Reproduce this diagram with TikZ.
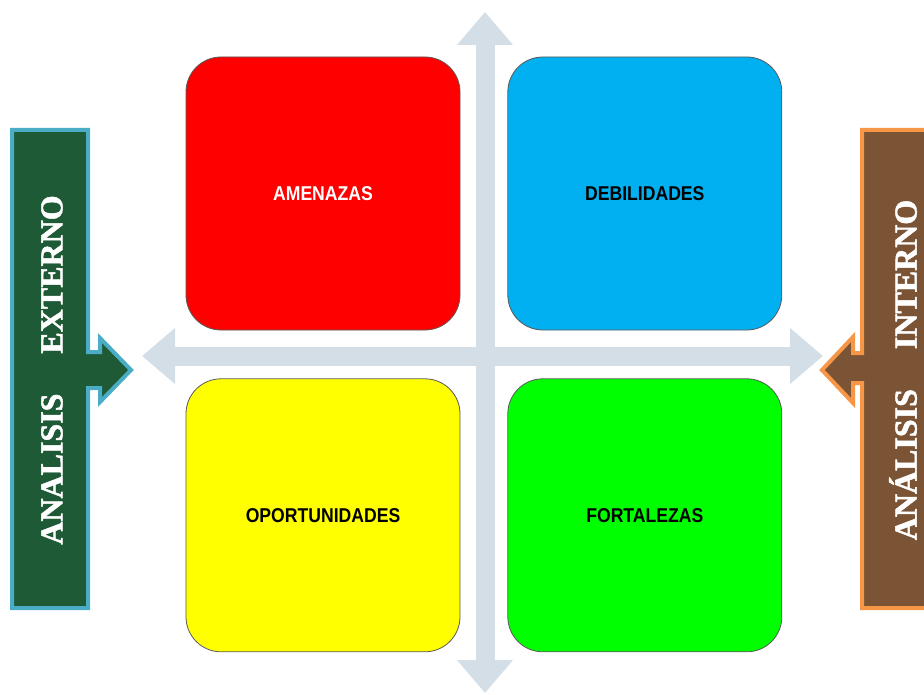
\documentclass[tikz,border=0pt]{standalone}
\usepackage{fontspec}
\setmainfont{Liberation Sans}
\newfontfamily\boxfont[FakeStretch=0.88]{Liberation Sans}
\newfontfamily\sidefont[FakeBold=1.5]{Liberation Serif Bold}
\usetikzlibrary{arrows.meta, positioning}
\definecolor{amenaza}{HTML}{FF0000}
\definecolor{debilidad}{HTML}{00B0F0}
\definecolor{oportunidad}{HTML}{FFFF00}
\definecolor{fortaleza}{HTML}{00FF00}
\definecolor{ejegris}{HTML}{D3DEE6}
\definecolor{marmol}{HTML}{1E5A36}
\definecolor{madera}{HTML}{7A5434}
\definecolor{bordeext}{HTML}{4BACC6}
\definecolor{bordeint}{HTML}{F79646}

\begin{document}
\begin{tikzpicture}[x=1pt, y=-1pt,
  quad/.style={draw=black!65, line width=0.8pt, rounded corners=35pt, minimum width=274pt, minimum height=273pt, inner sep=0pt, font=\boxfont\bfseries\fontsize{20}{24}\selectfont},
  axis/.style={draw=ejegris, line width=19pt, {Triangle[width=54pt,length=33pt]}-{Triangle[width=54pt,length=33pt]}},
  side/.style={text=white, rotate=90, font=\sidefont\fontsize{32}{36}\selectfont}]
\useasboundingbox (0,0) rectangle (924,695);
\clip (0,0) rectangle (924,695);

% ejes
\coordinate (vtop) at (485,12);
\coordinate (vbot) at (485,693);
\coordinate (hleft) at (142,356);
\coordinate (hright) at (823,356);
\draw[axis] (vtop) -- (vbot);
\draw[axis] (hleft) -- (hright);

% cuadrantes
\node[quad, fill=amenaza, text=white] (amenazas) at (323,193.5) {AMENAZAS};
\node[quad, fill=debilidad, right = 47pt of amenazas] (debilidades) {DEBILIDADES};
\node[quad, fill=oportunidad, below = 48pt of amenazas] (oportunidades) {OPORTUNIDADES};
\node[quad, fill=fortaleza, right = 47pt of oportunidades] (fortalezas) {FORTALEZAS};

% paneles laterales
\draw[draw=bordeext, fill=marmol, line width=4pt] (12,130) -- (88,130) -- (88,352) -- (100,352) -- (100,338) -- (131,370) -- (100,402) -- (100,388) -- (88,388) -- (88,608) -- (12,608) -- cycle;
\node[side] (externo) at (52,370) {ANALISIS\hspace{40pt}EXTERNO};

\fill[madera] (940,130) -- (862,130) -- (862,353) -- (853,353) -- (853,337) -- (822,370) -- (853,403) -- (853,383) -- (862,383) -- (862,608) -- (940,608) -- cycle;
\draw[draw=bordeint, line width=4pt] (940,130) -- (862,130) -- (862,353) -- (853,353) -- (853,337) -- (822,370) -- (853,403) -- (853,383) -- (862,383) -- (862,608) -- (940,608);
\node[side] (interno) at (903,370) {ANÁLISIS\hspace{40pt}INTERNO};
\end{tikzpicture}
\end{document}
